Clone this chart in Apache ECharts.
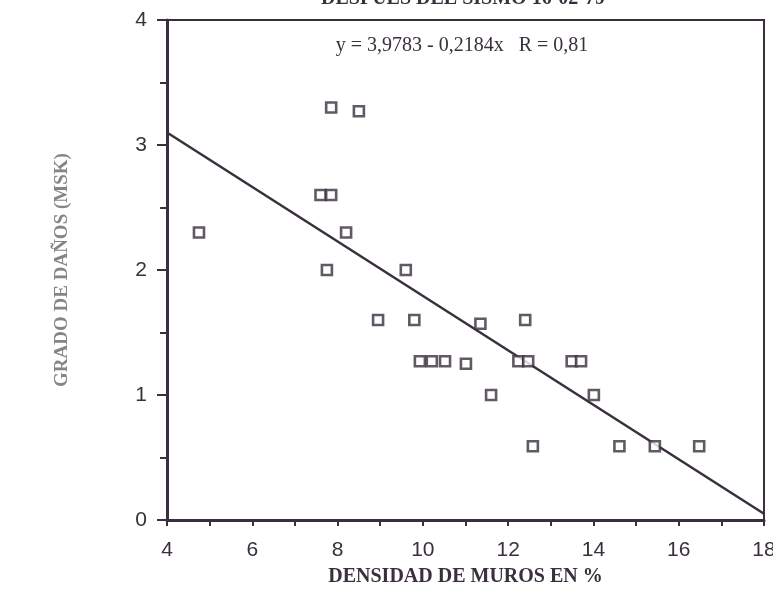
<!DOCTYPE html>
<html>
<head>
<meta charset="utf-8">
<script src="https://cdn.jsdelivr.net/npm/echarts@6/dist/echarts.min.js"></script>
<style>
  html, body { margin: 0; padding: 0; background: #fff; }
  #chart { width: 773px; height: 597px; }
</style>
</head>
<body>
<div id="chart"></div>
<script>
// densidad de muros (%) vs grado de danos (MSK)
const densidad = [7.85, 8.5, 7.6, 7.85, 4.75, 8.2, 7.75, 9.6,
  8.95, 9.8, 11.35, 12.4,
  9.93, 10.21, 10.52, 11.01, 12.24, 12.47, 13.49, 13.71,
  11.6, 14.01,
  12.58, 14.61, 15.44, 16.48];
const grado = [3.3, 3.27, 2.6, 2.6, 2.3, 2.3, 2.0, 2.0,
  1.6, 1.6, 1.57, 1.6,
  1.27, 1.27, 1.27, 1.25, 1.27, 1.27, 1.27, 1.27,
  1.0, 1.0,
  0.59, 0.59, 0.59, 0.59];
// recta de regresion, extremos
const rectaX = [4, 18];
const rectaY = [3.1, 0.05];

const ink = '#3a2f3c';
const tickFont = { fontFamily: 'Liberation Sans', fontSize: 21, color: ink };

const chart = echarts.init(document.getElementById('chart'));

chart.setOption({
  animation: false,
  grid: {
    left: 167, right: 9, top: 20, bottom: 77,
    outerBoundsMode: 'none',
    show: true, borderColor: ink, borderWidth: 2
  },
  graphic: [
    {
      type: 'text', x: 463, y: 9,
      style: { text: 'DESPUES DEL SISMO 16-02-79', font: 'bold 20px "Liberation Serif"', fill: ink, align: 'center', verticalAlign: 'bottom' }
    },
    {
      type: 'text', x: 462, y: 46,
      style: { text: 'y = 3,9783 - 0,2184x   R = 0,81', font: '20px "Liberation Serif"', fill: ink, align: 'center', verticalAlign: 'middle' }
    }
  ],
  xAxis: {
    type: 'value', min: 4, max: 18, interval: 2,
    name: 'DENSIDAD DE MUROS EN %',
    nameLocation: 'middle', nameGap: 47,
    nameTextStyle: { fontFamily: 'Liberation Serif', fontWeight: 'bold', fontSize: 20, color: ink },
    axisLine: { lineStyle: { color: ink, width: 3 } },
    axisTick: { show: true, length: 6, lineStyle: { color: ink, width: 2 } },
    minorTick: { show: true, splitNumber: 2, length: 6, lineStyle: { color: ink, width: 2 } },
    splitLine: { show: false },
    axisLabel: { formatter: '{t|{value}}', rich: { t: tickFont }, margin: 20 }
  },
  yAxis: {
    type: 'value', min: 0, max: 4, interval: 1,
    name: 'GRADO DE DAÑOS (MSK)',
    nameLocation: 'middle', nameGap: 95, nameRotate: 90,
    nameTextStyle: { fontFamily: 'Liberation Serif', fontWeight: 'bold', fontSize: 19, color: '#858585' },
    axisLine: { lineStyle: { color: ink, width: 3 } },
    axisTick: { show: true, length: 10, lineStyle: { color: ink, width: 2 } },
    minorTick: { show: true, splitNumber: 2, length: 7, lineStyle: { color: ink, width: 2 } },
    splitLine: { show: false },
    axisLabel: { formatter: '{t|{value}}', rich: { t: tickFont }, margin: 20 }
  },
  series: [
    {
      type: 'line',
      data: rectaX.map((x, i) => [x, rectaY[i]]),
      symbol: 'none',
      lineStyle: { color: ink, width: 2.5 },
      z: 2
    },
    {
      type: 'scatter',
      data: densidad.map((x, i) => [x, grado[i]]),
      symbol: 'rect',
      symbolSize: 10,
      itemStyle: { color: '#fff', borderColor: ink, borderWidth: 2.6 },
      z: 3
    }
  ]
});
</script>
</body>
</html>
